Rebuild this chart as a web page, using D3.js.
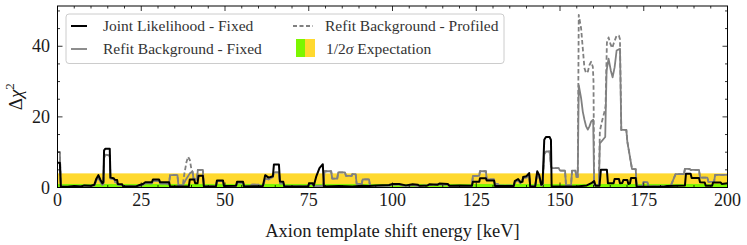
<!DOCTYPE html>
<html>
<head>
<meta charset="UTF-8">
<style>
  body { margin: 0; background: white; }
</style>
</head>
<body>
<svg id="chart" width="747" height="245" font-family="'Liberation Serif', 'DejaVu Serif', serif"></svg>
<script src="https://cdn.jsdelivr.net/npm/d3@7"></script>
<script>

// expectation bands (delta chi2 levels)
const band1Sigma = 1;
const band2Sigma = 4;

// Joint Likelihood - Fixed : [energy keV, delta chi2]
const jointPts = [[0,7],[0.7,7],[1.0,0.3],[3,0.2],[5,0.4],[7,0.3],[8,0.6],[10,0.5],[11,0.8],[11.6,2.5],[12.2,3.5],[12.8,2.2],[13.4,1.2],[13.7,1.5],[13.9,10.5],[14.3,11],[15.6,11],[15.8,2.8],[16.8,2.6],[17.1,2.2],[17.8,2.1],[18.0,1.0],[19.3,0.9],[19.6,0.3],[23.5,0.3],[24.5,0.7],[25.5,1.0],[26.2,1.5],[28.2,1.5],[28.5,2.3],[30.3,2.3],[30.6,1.5],[33.3,1.5],[33.6,0.3],[39.2,0.3],[39.5,2.3],[40.8,2.3],[41.1,1.2],[41.8,1.2],[42.1,3.3],[43.4,3.3],[43.7,0.3],[47.3,0.3],[47.6,2.0],[49.4,2.0],[49.7,0.4],[53.3,0.5],[53.6,1.6],[55.4,1.6],[55.7,0.3],[61.3,0.4],[62,3.5],[63,2.8],[64.3,3.2],[64.6,6.5],[66.1,6.5],[66.4,1.7],[67.4,1.6],[67.7,0.3],[74.8,0.3],[75.1,1.2],[76.2,1.2],[76.5,0.5],[77.2,3],[78.2,5.5],[79.2,6.6],[79.5,0.3],[84,0.4],[88,0.3],[91,0.5],[93,0.4],[95,0.6],[99,0.7],[100,1.0],[102,1.0],[104,0.6],[106,0.9],[107.5,0.8],[108,0.5],[110.5,0.6],[111,0.9],[113.5,0.8],[114,1.1],[116.5,1.0],[117,0.5],[120,0.6],[123.7,0.5],[124,1.6],[125.9,1.6],[126.1,2.6],[127.9,2.6],[128.1,2.0],[130.3,2.0],[130.6,0.4],[136.2,0.4],[136.5,1.8],[137.5,2.4],[138.2,1.5],[138.8,1.6],[139,3.0],[140,3.2],[140.8,4.1],[141.1,0.3],[142.6,0.3],[143.2,4.6],[143.8,3.5],[144.4,0.8],[144.8,1.0],[145.3,13.5],[145.8,14.3],[146.9,14.3],[147.3,13.5],[147.5,0.3],[152,0.3],[155,0.3],[158,0.6],[159.5,1.3],[160.2,1.8],[160.6,0.5],[161.8,0.5],[162.2,5],[164,5],[164.3,1.2],[166,1.2],[166.3,2.4],[167.6,2.4],[167.9,1.2],[168.6,1.3],[168.9,2.1],[170.1,2.1],[170.4,1.0],[170.9,1.2],[171.2,2.7],[172.6,2.7],[172.9,0.2],[181,0.2],[182,0.4],[185,0.5],[187.3,0.6],[187.6,3.9],[189.0,3.9],[189.3,2.7],[191.5,2.7],[191.8,1.5],[193.2,1.4],[193.5,0.5],[195.4,0.5],[195.7,1.4],[198,1.4],[198.3,1.0],[200,1.2]];

// Refit Background - Fixed
const refitFixedPts = [[0,10],[0.7,10],[1.0,0.3],[3,0.2],[5,0.3],[7,0.3],[8,0.5],[10,0.4],[11,0.6],[11.6,2.0],[12.2,2.8],[12.8,1.6],[13.4,0.8],[13.7,1.0],[13.9,8.5],[14.4,9.3],[15.6,9.0],[15.8,2.5],[17,2.3],[17.2,1.5],[17.8,1.4],[18,0.8],[19.3,0.7],[19.6,0.3],[23.5,0.3],[24.5,0.5],[25.5,0.8],[26.2,1.2],[28.2,1.2],[28.5,1.9],[30.3,1.9],[30.6,1.2],[33.3,1.0],[33.6,3.5],[35.8,3.5],[36.1,0.6],[37.4,0.6],[38.5,2.5],[39.5,4.0],[40.3,4.5],[40.6,2.5],[41.6,2.2],[41.9,5.0],[43.4,5.0],[43.7,0.3],[47.3,0.3],[47.6,1.8],[49.4,1.8],[49.7,0.3],[53.3,0.4],[53.6,1.3],[55.4,1.3],[55.7,0.3],[57.5,0.4],[58,0.8],[60,0.8],[60.3,0.3],[61.3,0.3],[62,2.5],[63,2.3],[64.3,3.0],[64.6,4.3],[66.1,4.3],[66.4,1.2],[67.4,1.2],[67.7,0.3],[74.8,0.3],[75.1,1.0],[76.2,1.0],[76.5,0.3],[79.4,0.5],[79.7,4.6],[81.7,4.6],[82,2.5],[83.5,2.5],[83.8,4.3],[85.8,4.3],[86.1,3.3],[87.8,3.3],[88,3.8],[89,3.8],[89.3,1.0],[90.8,1.0],[91.1,2.3],[93,2.3],[93.3,0.3],[99,0.5],[100,0.8],[102,0.8],[104,0.4],[106,0.7],[108,0.4],[111,0.7],[114,0.9],[116.5,0.8],[117,0.3],[120,0.3],[123.7,0.4],[124,3.3],[125.9,3.3],[126.1,4.6],[127.9,4.6],[128.1,2.3],[130.3,2.3],[130.6,1.0],[131.5,1.0],[131.8,0.5],[136.2,0.5],[136.5,1.5],[137.5,2.0],[138.2,1.2],[139,2.6],[140,2.8],[140.8,3.6],[141.1,0.3],[142.6,0.3],[143.2,4.0],[143.8,3.0],[144.4,0.6],[144.8,0.8],[145.3,9.5],[145.8,10.2],[146.9,10.2],[147.3,6],[147.6,5.5],[149.6,5.5],[150,4.8],[151.5,4.8],[151.8,0.6],[153.3,0.6],[153.6,4.8],[154.6,4.8],[154.9,3.0],[155.3,3.0],[155.6,29],[156.3,25.3],[156.8,21.5],[157.3,19.2],[157.8,17.3],[158.3,16.4],[158.8,17.3],[159.3,18.7],[159.9,19.2],[160.2,0.6],[161.6,0.6],[161.9,12.5],[163.5,14.3],[163.9,33],[164.5,36.5],[165.2,33],[165.7,31.2],[166.3,34],[166.9,38.8],[167.9,39.3],[168.3,16.3],[169.8,16.3],[170.1,13],[171.5,5.2],[172.6,5.2],[172.9,0.3],[174.6,0.3],[174.9,1.5],[176.1,1.5],[176.4,0.3],[183,0.3],[184.5,3.8],[187.0,3.8],[187.3,5.3],[188.6,5.3],[189,5.0],[191.5,5.0],[191.8,2.8],[194,2.8],[194.3,1.6],[196,1.6],[196.3,3.6],[200,3.6]];

// Refit Background - Profiled: only where it departs from the fixed refit
const profiledSegs = [
  [[37.4,0.6],[37.8,3.5],[38.5,7.2],[39.0,8.7],[39.5,7.8],[40.0,5.0],[40.3,4.5]],
  [[155.3,3.0],[155.6,48.9],[156.3,45.1],[156.8,39.4],[157.3,33.8],[157.8,32.4],[158.3,32.8],[158.8,34.7],[159.3,35.6],[159.8,34.2],[160.0,30],[160.2,0.6]],
  [[161.6,0.6],[161.9,16],[162.6,19],[163.3,21.5],[163.6,23],[164.0,41],[164.5,42.5],[165.1,40.5],[165.6,39.5],[166.1,41],[166.9,43],[167.6,43],[167.9,42],[168.3,16.3]]
];

const xTicks = [0, 25, 50, 75, 100, 125, 150, 175, 200];
const yTicks = [0, 20, 40];

// profiled curve = fixed refit outside the segments + segment points
let profiledPts = refitFixedPts.filter(p => !profiledSegs.some(s => p[0] >= s[0][0] && p[0] <= s[s.length-1][0]));
profiledSegs.forEach(s => profiledPts = profiledPts.concat(s));
profiledPts.sort((a, b) => a[0] - b[0]);

const svg = d3.select("#chart");
const pL = 57.5, pR = 727.5, pT = 6, pB = 187.5;
const textCol = "#1a1a1a";

let x = d3.scaleLinear().domain([0, 200]).range([pL, pR]);
let y = d3.scaleLinear().domain([0, 51.4]).range([pB, pT]);

svg.append("defs").append("clipPath").attr("id", "plotClip")
  .append("rect").attr("x", pL).attr("y", pT)
  .attr("width", pR - pL).attr("height", pB - pT);

let plot = svg.append("g").attr("clip-path", "url(#plotClip)");

// bands
plot.append("rect")
  .attr("x", x(0)).attr("width", x(200) - x(0))
  .attr("y", y(band2Sigma)).attr("height", y(0) - y(band2Sigma))
  .attr("fill", "#ffd92f");
plot.append("rect")
  .attr("x", x(0)).attr("width", x(200) - x(0))
  .attr("y", y(band1Sigma)).attr("height", y(0) - y(band1Sigma))
  .attr("fill", "#7cf600");

let line = d3.line().x(d => x(d[0])).y(d => y(d[1]));

plot.append("path").datum(profiledPts)
  .attr("d", line).attr("fill", "none")
  .attr("stroke", "#808080").attr("stroke-width", 1.8)
  .attr("stroke-dasharray", "4.5,2.5").attr("stroke-linejoin", "round");

plot.append("path").datum(refitFixedPts)
  .attr("d", line).attr("fill", "none")
  .attr("stroke", "#808080").attr("stroke-width", 1.8).attr("stroke-linejoin", "round");

plot.append("path").datum(jointPts)
  .attr("d", line).attr("fill", "none")
  .attr("stroke", "black").attr("stroke-width", 2).attr("stroke-linejoin", "round");

// frame and inward ticks
svg.append("rect")
  .attr("x", pL).attr("y", pT)
  .attr("width", pR - pL).attr("height", pB - pT)
  .attr("fill", "none").attr("stroke", "black").attr("stroke-width", 1);

let ticks = svg.append("g").attr("stroke", "black").attr("stroke-width", 0.8);
d3.range(0, 201, 5).forEach(v => {
  let len = v % 25 == 0 ? 5 : 2.5;
  ticks.append("line").attr("x1", x(v)).attr("x2", x(v)).attr("y1", pB).attr("y2", pB - len);
  ticks.append("line").attr("x1", x(v)).attr("x2", x(v)).attr("y1", pT).attr("y2", pT + len);
});
d3.range(0, 51, 5).forEach(v => {
  let len = v % 20 == 0 ? 5 : 2.5;
  ticks.append("line").attr("y1", y(v)).attr("y2", y(v)).attr("x1", pL).attr("x2", pL + len);
  ticks.append("line").attr("y1", y(v)).attr("y2", y(v)).attr("x1", pR).attr("x2", pR - len);
});

svg.append("g").selectAll("text").data(xTicks).join("text")
  .attr("x", d => x(d)).attr("y", 206)
  .attr("text-anchor", "middle").attr("font-size", 18).attr("fill", textCol)
  .text(d => d);

svg.append("g").selectAll("text").data(yTicks).join("text")
  .attr("x", 50).attr("y", d => y(d) + 6)
  .attr("text-anchor", "end").attr("font-size", 18).attr("fill", textCol)
  .text(d => d);

svg.append("text")
  .attr("x", (pL + pR) / 2).attr("y", 237)
  .attr("text-anchor", "middle").attr("font-size", 18.5).attr("fill", textCol)
  .text("Axion template shift energy [keV]");

let ylab = svg.append("text")
  .attr("transform", "translate(22," + ((pT + pB) / 2) + ") rotate(-90)")
  .attr("text-anchor", "middle").attr("font-size", 19).attr("fill", textCol);
ylab.append("tspan").text("Δ");
ylab.append("tspan").attr("font-style", "italic").text("χ");
ylab.append("tspan").attr("font-size", 13).attr("dy", -8).text("2");

// legend
let lg = svg.append("g").attr("font-size", 15.5).attr("fill", "#333");
lg.append("rect")
  .attr("x", 66).attr("y", 14).attr("width", 438).attr("height", 49.5)
  .attr("rx", 3).attr("fill", "white").attr("fill-opacity", 0.8)
  .attr("stroke", "#cccccc").attr("stroke-width", 1);

lg.append("line").attr("x1", 71).attr("x2", 87).attr("y1", 26).attr("y2", 26)
  .attr("stroke", "black").attr("stroke-width", 2);
lg.append("text").attr("x", 103).attr("y", 31).text("Joint Likelihood - Fixed");

lg.append("line").attr("x1", 71).attr("x2", 87).attr("y1", 49).attr("y2", 49)
  .attr("stroke", "#808080").attr("stroke-width", 1.8);
lg.append("text").attr("x", 103).attr("y", 54).text("Refit Background - Fixed");

lg.append("line").attr("x1", 293).attr("x2", 313).attr("y1", 26).attr("y2", 26)
  .attr("stroke", "#808080").attr("stroke-width", 1.8).attr("stroke-dasharray", "4,2.5");
lg.append("text").attr("x", 325).attr("y", 31).text("Refit Background - Profiled");

lg.append("rect").attr("x", 296).attr("y", 39).attr("width", 19).attr("height", 18).attr("fill", "#ffd92f");
lg.append("rect").attr("x", 296).attr("y", 39).attr("width", 9).attr("height", 18).attr("fill", "#7cf600");
let et = lg.append("text").attr("x", 326).attr("y", 54);
et.append("tspan").text("1/2");
et.append("tspan").attr("font-style", "italic").text("σ");
et.append("tspan").text(" Expectation");

</script>
</body>
</html>
